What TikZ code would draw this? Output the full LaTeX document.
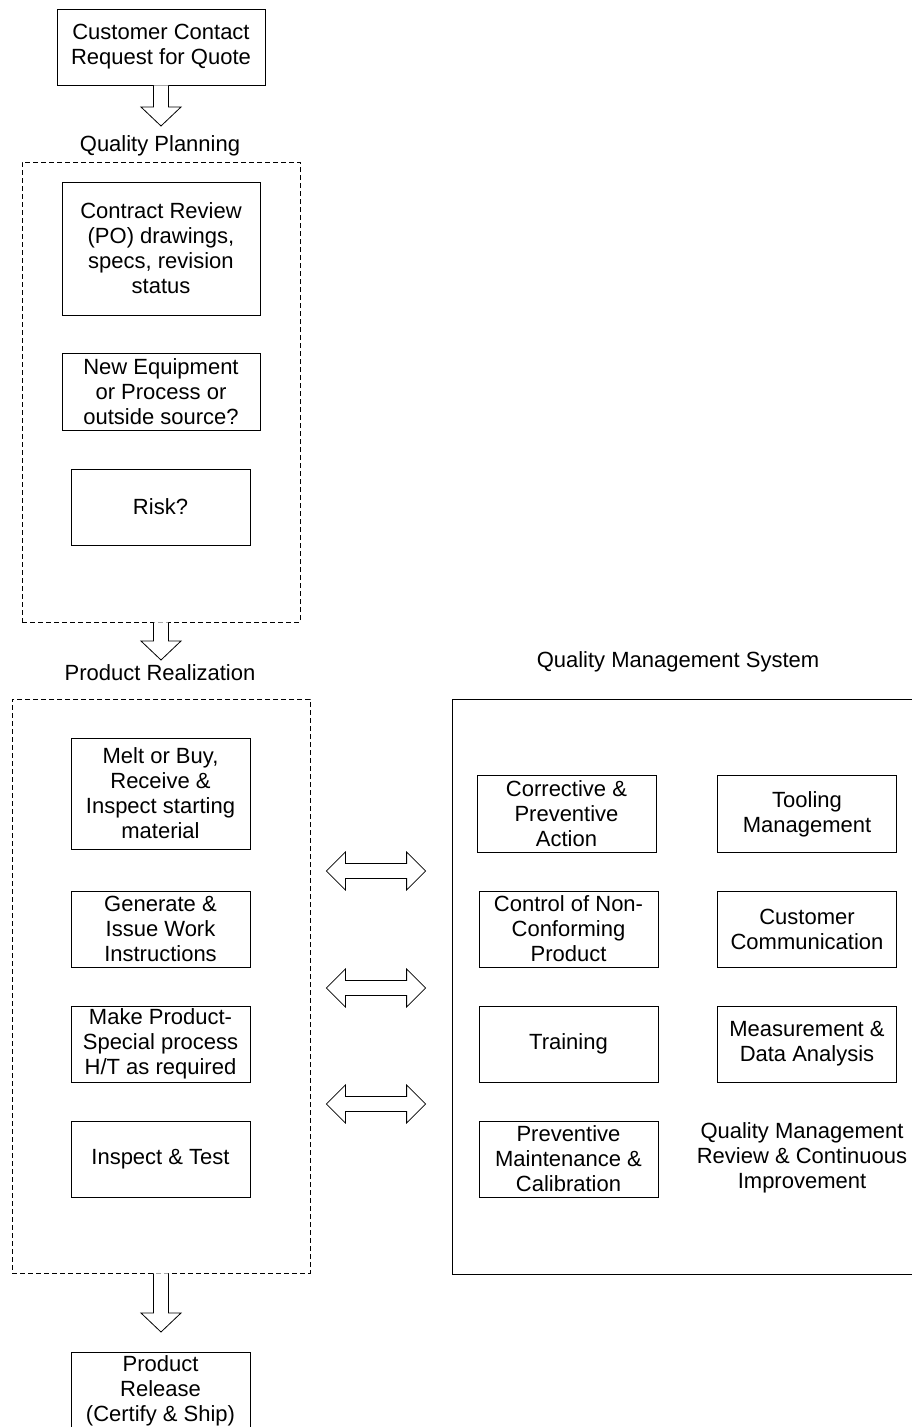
\documentclass[tikz,border=0pt]{standalone}
\usepackage{fontspec}
\setmainfont{Liberation Sans}
\usepackage{tikz}
\usetikzlibrary{positioning,calc}

% block arrow pointing down: #1 top of shaft, #2 tip
\newcommand{\downblock}[2]{%
  \draw[blockarrow] ($(#1)+(-7.5,0)$) -- ($(#2)+(-7.5,-19)$) -- ($(#2)+(-20,-19)$) -- (#2)
    -- ($(#2)+(20,-19)$) -- ($(#2)+(7.5,-19)$) -- ($(#1)+(7.5,0)$);}
% block arrow with two heads: #1 left tip, #2 right tip
\newcommand{\twoblock}[2]{%
  \draw[blockarrow] (#1) -- ($(#1)+(19,-19)$) -- ($(#1)+(19,-7.5)$) -- ($(#2)+(-19,-7.5)$)
    -- ($(#2)+(-19,-19)$) -- (#2) -- ($(#2)+(-19,19)$) -- ($(#2)+(-19,7.5)$)
    -- ($(#1)+(19,7.5)$) -- ($(#1)+(19,19)$) -- cycle;}

\begin{document}
\begin{tikzpicture}[x=1pt, y=-1pt]
    \tikzset{
        box/.style={draw, line width=0.8pt, rectangle, inner sep=0pt, align=center, font=\fontsize{22}{25}\selectfont},
        frame/.style={draw, line width=0.8pt, dash pattern=on 5pt off 3pt, rectangle, inner sep=0pt},
        title/.style={inner sep=0pt, align=center, font=\fontsize{22}{25}\selectfont},
        blockarrow/.style={draw, line width=0.8pt, fill=white, line join=miter}
    }
    \clip (0,0) rectangle (912,1427);

    % Start
    \node[box, minimum width=208pt, minimum height=76pt] (cust) at (161,47) {Customer Contact\\Request for Quote};

    % Quality planning
    \node[title] (qplabel) at (160,146) {Quality Planning};
    \node[frame, minimum width=278pt, minimum height=460pt] (qpframe) at (161,392) {};
    \node[box, minimum width=198pt, minimum height=133pt] (contract) at (161,248.5) {Contract Review\\(PO) drawings,\\specs, revision\\status};
    \node[box, minimum width=198pt, minimum height=77pt] (neweq) at (161,391.5) {New Equipment\\or Process or\\outside source?};
    \node[box, minimum width=179pt, minimum height=76pt] (risk) at (160.5,507) {Risk?};

    % Product realization
    \node[title] (prlabel) at (160,673) {Product Realization};
    \node[frame, minimum width=298pt, minimum height=574pt] (prframe) at (161,986) {};
    \node[box, minimum width=179pt, minimum height=111pt] (melt) at (160.5,793.5) {Melt or Buy,\\Receive \&\\Inspect starting\\material};
    \node[box, minimum width=179pt, minimum height=76pt] (generate) at (160.5,929) {Generate \&\\Issue Work\\Instructions};
    \node[box, minimum width=179pt, minimum height=76pt] (make) at (160.5,1044) {Make Product-\\Special process\\H/T as required};
    \node[box, minimum width=179pt, minimum height=76pt] (inspect) at (160.5,1159) {Inspect \& Test};

    % Release
    \node[box, minimum width=179pt, minimum height=78pt] (release) at (160.5,1391) {Product\\Release\\(Certify \& Ship)};

    % Quality management system
    \node[title] (qmslabel) at (678,662) {Quality Management System};
    \node[box, minimum width=478pt, minimum height=575pt] (qmsframe) at (691,986.5) {};
    \node[box, minimum width=179pt, minimum height=77pt] (corrective) at (566.5,813.5) {Corrective \&\\Preventive\\Action};
    \node[box, minimum width=179pt, minimum height=76pt] (control) at (568.5,929) {Control of Non-\\Conforming\\Product};
    \node[box, minimum width=179pt, minimum height=76pt] (training) at (568.5,1044) {Training};
    \node[box, minimum width=179pt, minimum height=76pt] (preventive) at (568.5,1159) {Preventive\\Maintenance \&\\Calibration};
    \node[box, minimum width=179pt, minimum height=77pt] (tooling) at (807,814) {Tooling\\Management};
    \node[box, minimum width=179pt, minimum height=76pt] (customer) at (807,929) {Customer\\Communication};
    \node[box, minimum width=179pt, minimum height=76pt] (measure) at (807,1044) {Measurement \&\\Data Analysis};
    \node[title] (qmreview) at (802,1158) {Quality Management\\Review \& Continuous\\Improvement};

    % Block arrows down
    \coordinate (tip1) at (161,126);
    \coordinate (top1) at (cust.south -| tip1);
    \downblock{top1}{tip1}
    \coordinate (tip2) at (161,660);
    \coordinate (top2) at (qpframe.south -| tip2);
    \downblock{top2}{tip2}
    \coordinate (tip3) at (161,1332);
    \coordinate (top3) at (prframe.south -| tip3);
    \downblock{top3}{tip3}

    % Two-way arrows between the frames
    \foreach \n/\y in {1/871, 2/988, 3/1104} {
        \coordinate (l\n) at ($(prframe.east |- 0,\y)+(16,0)$);
        \coordinate (r\n) at ($(qmsframe.west |- 0,\y)+(-26,0)$);
        \twoblock{l\n}{r\n}
    }
\end{tikzpicture}
\end{document}
